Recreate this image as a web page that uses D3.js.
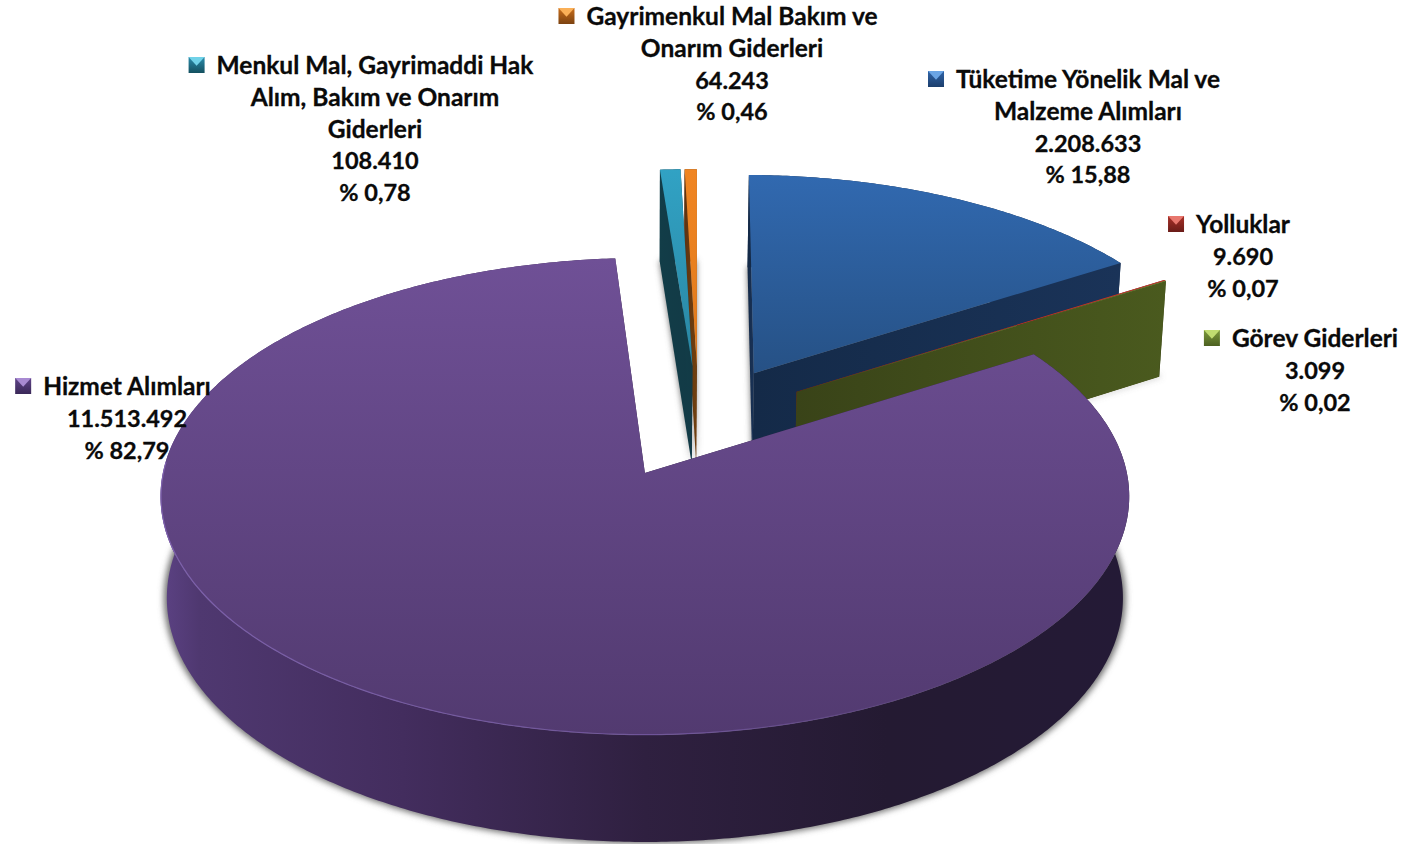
<!DOCTYPE html>
<html>
<head>
<meta charset="utf-8">
<script src="https://cdn.jsdelivr.net/npm/d3@7"></script>
<style>
  html, body { margin: 0; padding: 0; background: #fff; overflow: hidden; }
  text { font-family: Lato, "Open Sans", sans-serif; font-weight: 700; fill: #0a0a0a; stroke: #0a0a0a; stroke-width: 0.3px; }
</style>
</head>
<body>
<script>
// chart data, pie order clockwise from the top
var names = [
    ["Tüketime Yönelik Mal ve", "Malzeme Alımları"],
    ["Yolluklar"],
    ["Görev Giderleri"],
    ["Hizmet Alımları"],
    ["Menkul Mal, Gayrimaddi Hak", "Alım, Bakım ve Onarım", "Giderleri"],
    ["Gayrimenkul Mal Bakım ve", "Onarım Giderleri"]
];
var values = [2208633, 9690, 3099, 11513492, 108410, 64243];

// label layout: centre of the text block, baseline of its first line
var labelX = [1088, 1243, 1315, 127, 375, 732];
var labelY = [88, 233, 347, 395, 74, 25];

// slice colours
var topStops = [["#3169b0", "#265185"], ["#c0392f", "#b03028"], ["#8fb04c", "#8fb04c"],
                ["#6f5096", "#523a70"], ["#31a2c4", "#2a86a2"], ["#f08522", "#e07a1c"]];
var wallStops = [["#142a48", "#1a3358"], ["#6a1c18", "#6a1c18"], ["#394318", "#4a5a1e"],
                 ["#2f2040", "#2f2040"], ["#123d48", "#123a46"], ["#5e3210", "#70400f"]];
var markerStops = [["#6aa4e4", "#2f64a8", "#1c3e6c"], ["#e8776e", "#a83028", "#6a1c18"],
                   ["#c0dc70", "#7c9a3c", "#4c6020"], ["#a88ad2", "#5f4488", "#3a2858"],
                   ["#70d2e8", "#2a8cac", "#14505f"], ["#fab058", "#c86e1c", "#7c4210"]];
var purpleWall = [[0, "#5c4284"], [0.04, "#4f3870"], [0.25, "#432d5e"], [0.5, "#2f2040"],
                  [0.75, "#241a32"], [1, "#241a36"]];
var paintOrder = [5, 4, 0, 1, 2, 3];

var width = 1403, height = 844;

// perspective of the pie plane, anchored on the apex of the biggest slice
var X0 = 645, Y0 = 473, A = 482, B = 236.2, P = 0.0985, K = 0.013;
var CU = 0.1137, CV = -0.2227, EXPLODE = 0.25;
var ROTATION = 0.6 * Math.PI / 180;

function project(u, v, z) {
    var w = 1 - P * v;
    return [X0 + A * u * (1 - K * z) / w,
            Y0 + B * v / w + z * (101 + 6 * v)];
}

var total = d3.sum(values);
var tr = d3.formatLocale({decimal: ",", thousands: ".", grouping: [3], currency: ["", ""]});
var fmtValue = tr.format(",d"), fmtPct = tr.format(".2f");

var slices = d3.pie().sort(null).value(function(d) { return d; })
    .startAngle(ROTATION).endAngle(ROTATION + 2 * Math.PI)(values);

slices.forEach(function(s) {
    var mid = (s.startAngle + s.endAngle) / 2;
    s.cu = CU + EXPLODE * Math.sin(mid);
    s.cv = CV - EXPLODE * Math.cos(mid);
});

var line = d3.line();

function rimAngles(s) {
    var n = Math.max(1, Math.ceil((s.endAngle - s.startAngle) / 0.01));
    return d3.range(n + 1).map(function(i) {
        return s.startAngle + (s.endAngle - s.startAngle) * i / n;
    });
}

function rimPoint(s, a, z, r) {
    return project(s.cu + r * Math.sin(a), s.cv - r * Math.cos(a), z);
}

function faceD(s, z, r) {
    var pts = [project(s.cu, s.cv, z)];
    rimAngles(s).forEach(function(a) { pts.push(rimPoint(s, a, z, r)); });
    return line(pts) + "Z";
}

function sideD(s, a) {
    return line([project(s.cu, s.cv, 0), rimPoint(s, a, 0, 1),
                 rimPoint(s, a, 1, 1), project(s.cu, s.cv, 1)]) + "Z";
}

function arcWallD(s) {
    var as = rimAngles(s);
    var pts = as.map(function(a) { return rimPoint(s, a, 0, 1); })
        .concat(as.slice().reverse().map(function(a) { return rimPoint(s, a, 1, 1); }));
    return line(pts) + "Z";
}

var svg = d3.select("body").append("svg")
    .attr("width", width)
    .attr("height", height);

var defs = svg.append("defs");

function addGradient(id, horizontal, stops) {
    var g = defs.append("linearGradient").attr("id", id)
        .attr("x1", 0).attr("y1", 0)
        .attr("x2", horizontal ? 1 : 0).attr("y2", horizontal ? 0 : 1);
    stops.forEach(function(st) {
        g.append("stop").attr("offset", st[0]).attr("stop-color", st[1]);
    });
}

slices.forEach(function(s, i) {
    addGradient("top" + i, false, [[0, topStops[i][0]], [1, topStops[i][1]]]);
    addGradient("wall" + i, true, [[0, wallStops[i][0]], [1, wallStops[i][1]]]);
    addGradient("mark" + i, false, [[0, markerStops[i][1]], [1, markerStops[i][2]]]);
});
addGradient("wallBig", true, purpleWall);

var rimGrad = defs.append("linearGradient").attr("id", "rim");
rimGrad.append("stop").attr("offset", 0).attr("stop-color", "#8a6cc0").attr("stop-opacity", 0.7);
rimGrad.append("stop").attr("offset", 0.55).attr("stop-color", "#8a6cc0").attr("stop-opacity", 0.5);
rimGrad.append("stop").attr("offset", 0.85).attr("stop-color", "#8a6cc0").attr("stop-opacity", 0);

defs.append("filter").attr("id", "soft")
    .attr("x", "-10%").attr("y", "-10%").attr("width", "120%").attr("height", "120%")
    .append("feGaussianBlur").attr("stdDeviation", 3);

// shadows sit under everything, they come from the floor of each slice
svg.append("g").attr("filter", "url(#soft)")
    .selectAll("path")
    .data(slices)
    .enter().append("path")
    .attr("d", function(s) { return faceD(s, 1, 1.006); })
    .attr("fill", "#707070");

var g = svg.selectAll("g.slice")
    .data(paintOrder)
    .enter().append("g")
    .attr("class", "slice");

g.each(function(i) {
    var s = slices[i], el = d3.select(this);
    var big = s.endAngle - s.startAngle > Math.PI;
    el.append("path").attr("d", sideD(s, s.startAngle)).attr("fill", "url(#wall" + i + ")");
    el.append("path").attr("d", sideD(s, s.endAngle)).attr("fill", "url(#wall" + i + ")");
    el.append("path").attr("d", arcWallD(s)).attr("fill", big ? "url(#wallBig)" : "url(#wall" + i + ")");
    el.append("path").attr("d", faceD(s, 0, 1)).attr("fill", "url(#top" + i + ")");
    if (big) {
        // thin light line on the front rim
        var front = rimAngles(s).filter(function(a) { return Math.cos(a) < 0.05; });
        el.append("path")
            .attr("d", line(front.map(function(a) { return rimPoint(s, a, 0, 0.999); })))
            .attr("fill", "none")
            .attr("stroke", "url(#rim)")
            .attr("stroke-width", 1.2);
    }
});

// labels. Lato digits run wider than the names, so the number lines are a bit smaller
var LINE_H = 31.8, FONT = 24.5, FONT_NUM = 23.5, MARK = 16, MARK_GAP = 12;

var label = svg.selectAll("g.label")
    .data(slices)
    .enter().append("g")
    .attr("class", "label")
    .attr("transform", function(s, i) { return "translate(" + labelX[i] + "," + labelY[i] + ")"; });

label.each(function(s, i) {
    var el = d3.select(this);
    var nameCount = names[i].length;
    var lines = names[i].concat([fmtValue(values[i]), "% " + fmtPct(values[i] / total * 100)]);
    var texts = el.selectAll("text")
        .data(lines)
        .enter().append("text")
        .attr("y", function(d, j) { return j * LINE_H; })
        .attr("text-anchor", "middle")
        .attr("font-size", function(d, j) { return j < nameCount ? FONT : FONT_NUM; })
        .text(function(d) { return d; });

    var w = texts.node().getComputedTextLength();
    var x = -w / 2 - MARK_GAP - MARK, y = -17;
    var m = el.append("g").attr("transform", "translate(" + x + "," + y + ")");
    var c = markerStops[i];
    m.append("rect").attr("width", MARK).attr("height", MARK).attr("fill", "url(#mark" + i + ")");
    m.append("path").attr("d", line([[0, 0], [MARK, 0], [MARK / 2, MARK * 0.55]]) + "Z").attr("fill", c[0]);
});
</script>
</body>
</html>
